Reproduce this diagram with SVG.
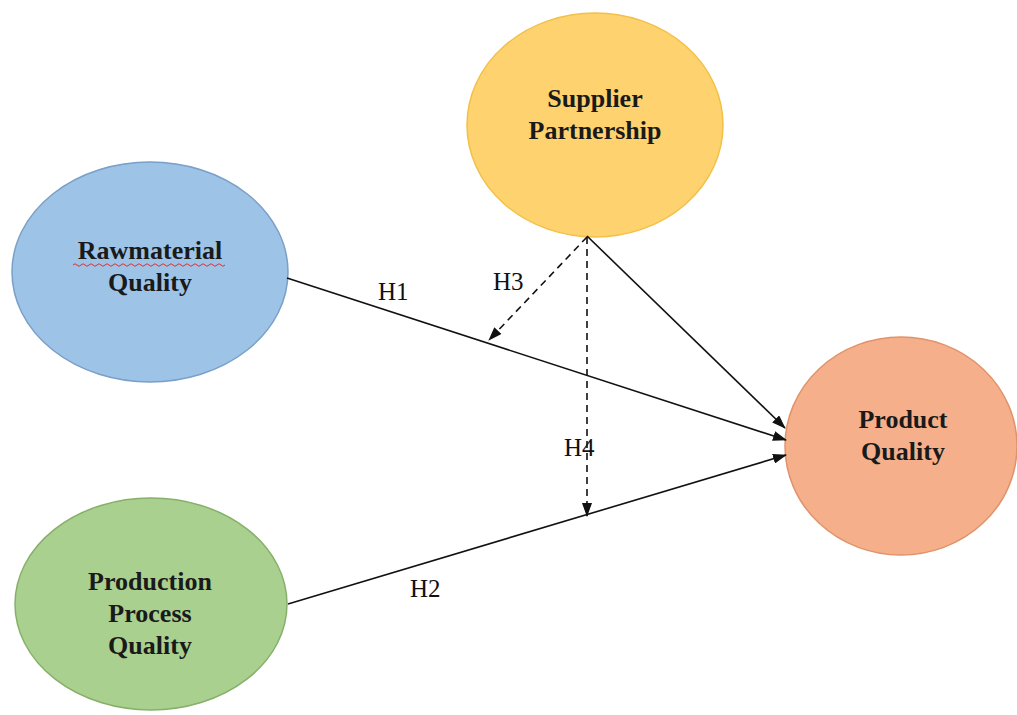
<svg xmlns="http://www.w3.org/2000/svg" width="1017" height="715" viewBox="0 0 1017 715">
<style>
.node text{font-family:"Liberation Serif","Times New Roman",serif;font-weight:bold;font-size:26px;fill:#1a1a1a;text-anchor:middle}
.lbl{font-family:"Liberation Serif","Times New Roman",serif;font-size:25px;fill:#111}
.ln{stroke:#111;stroke-width:1.6;fill:none}
.dash{stroke-dasharray:7 5}
</style>
<defs>
<marker id="ah" viewBox="0 0 14 10" refX="13" refY="5" markerWidth="14" markerHeight="10" markerUnits="userSpaceOnUse" orient="auto">
<path d="M0,0 L14,5 L0,10 Z" fill="#111"/>
</marker>
</defs>
<rect width="1017" height="715" fill="#fff"/>
<g id="rawmaterial" class="node">
<ellipse cx="150" cy="272" rx="138" ry="110" fill="#9dc3e6" stroke="#7a9fc8" stroke-width="1.5"/>
<text x="150" y="259">Rawmaterial</text>
<text x="150" y="291">Quality</text>
<path d="M73,265 q2,-2.5 4,0 t4,0 t4,0 t4,0 t4,0 t4,0 t4,0 t4,0 t4,0 t4,0 t4,0 t4,0 t4,0 t4,0 t4,0 t4,0 t4,0 t4,0 t4,0 t4,0 t4,0 t4,0 t4,0 t4,0 t4,0 t4,0 t4,0 t4,0 t4,0 t4,0 t4,0 t4,0 t4,0 t4,0 t4,0 t4,0 t4,0 t4,0" fill="none" stroke="#e03030" stroke-width="1"/>
</g>
<g id="supplier" class="node">
<ellipse cx="595" cy="125" rx="128" ry="112" fill="#fed26e" stroke="#f3c047" stroke-width="1.5"/>
<text x="595" y="107">Supplier</text>
<text x="595" y="139">Partnership</text>
</g>
<g id="product" class="node">
<ellipse cx="901" cy="446" rx="116" ry="109" fill="#f5b08b" stroke="#e0936a" stroke-width="1.5"/>
<text x="903" y="428">Product</text>
<text x="903" y="460">Quality</text>
</g>
<g id="production" class="node">
<ellipse cx="151" cy="604" rx="136" ry="106" fill="#a9d08e" stroke="#86b06a" stroke-width="1.5"/>
<text x="150" y="590">Production</text>
<text x="150" y="622">Process</text>
<text x="150" y="654">Quality</text>
</g>
<g id="connectors">
<line class="ln" x1="287" y1="278" x2="786" y2="440" marker-end="url(#ah)"/>
<line class="ln" x1="288" y1="604" x2="786" y2="455" marker-end="url(#ah)"/>
<line class="ln" x1="587" y1="236" x2="785" y2="428" marker-end="url(#ah)"/>
<line class="ln dash" x1="587" y1="237" x2="489" y2="340" marker-end="url(#ah)"/>
<line class="ln dash" x1="587" y1="237" x2="587" y2="516" marker-end="url(#ah)"/>
<text class="lbl" x="378" y="300">H1</text>
<text class="lbl" x="410" y="597">H2</text>
<text class="lbl" x="493" y="290">H3</text>
<text class="lbl" x="564" y="456">H4</text>
</g>
</svg>
